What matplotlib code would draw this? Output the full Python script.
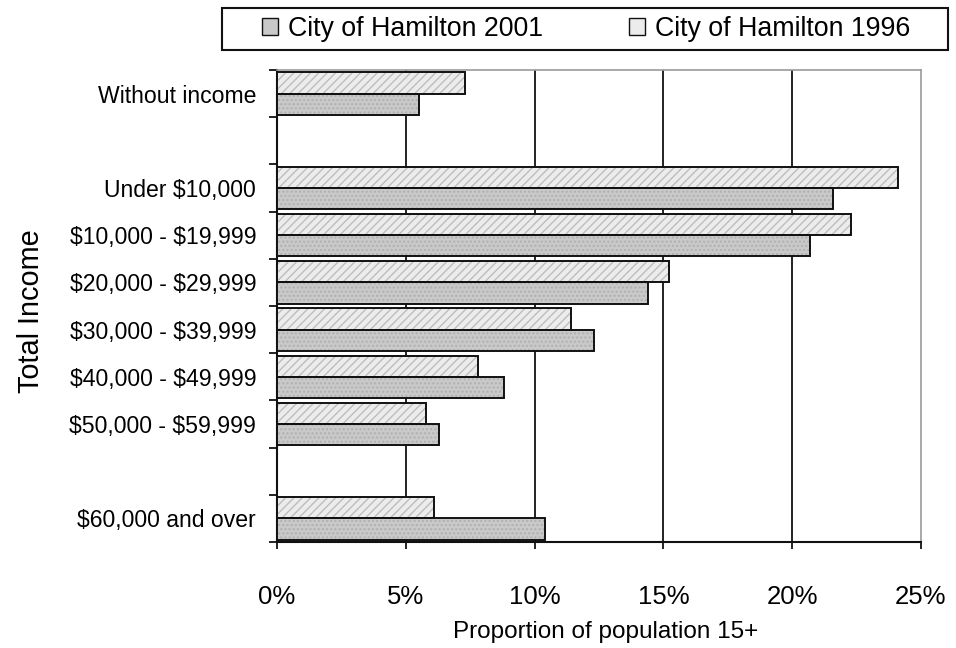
import matplotlib.pyplot as plt
from matplotlib.patches import Patch, Rectangle

plt.rcParams['font.family'] = ['Liberation Sans', 'DejaVu Sans']

# income brackets, top to bottom
categories = [
    "Without income",
    "Under $10,000",
    "$10,000 - $19,999",
    "$20,000 - $29,999",
    "$30,000 - $39,999",
    "$40,000 - $49,999",
    "$50,000 - $59,999",
    "$60,000 and over",
]
# share of population aged 15+ (%)
hamilton_2001 = [5.5, 21.6, 20.7, 14.4, 12.3, 8.8, 6.3, 10.4]
hamilton_1996 = [7.3, 24.1, 22.3, 15.2, 11.4, 7.8, 5.8, 6.1]
x_ticks = [0, 5, 10, 15, 20, 25]

# row slots (empty slots after "Without income" and before "$60,000 and over")
slots = [0, 2, 3, 4, 5, 6, 7, 9]
n_slots = 10
bar_h = 0.45

fig = plt.figure(figsize=(9.56, 6.48), dpi=100)
ax = fig.add_axes([277 / 956, 1 - 542 / 648, 644 / 956, 472 / 648])

y96 = [s - bar_h / 2 for s in slots]
y01 = [s + bar_h / 2 for s in slots]

# fill + hatch first, outline on top so hatch lines stay light
ax.barh(y96, hamilton_1996, height=bar_h, color="#ececec", edgecolor="#bdbdbd",
        hatch="////", linewidth=0, zorder=3)
ax.barh(y96, hamilton_1996, height=bar_h, fill=False, edgecolor="#111111",
        linewidth=1.4, zorder=4)
ax.barh(y01, hamilton_2001, height=bar_h, color="#c9c9c9", edgecolor="#b0b0b0",
        hatch="....", linewidth=0, zorder=3)
ax.barh(y01, hamilton_2001, height=bar_h, fill=False, edgecolor="#111111",
        linewidth=1.4, zorder=4)

ax.set_xlim(0, 25)
ax.set_ylim(n_slots - 0.5, -0.5)

# vertical gridlines behind the bars
for v in x_ticks[1:-1]:
    ax.axvline(v, color="#111111", linewidth=1.3, zorder=1)

ax.set_xticks(x_ticks)
ax.set_xticklabels([f"{v}%" for v in x_ticks], fontsize=18.5)
ax.tick_params(axis="x", direction="out", length=5, width=1.3, pad=26, color="#111111")

# slot boundaries as major ticks, names as minor tick labels
ax.set_yticks([i - 0.5 for i in range(n_slots + 1)])
ax.set_yticklabels([])
ax.tick_params(axis="y", which="major", direction="out", length=6, width=1.3, color="#111111")
ax.set_yticks(slots, minor=True)
ax.set_yticklabels([c.replace("$", r"\$") for c in categories], minor=True, fontsize=16.6)
ax.tick_params(axis="y", which="minor", length=0, pad=15)

for side in ("left", "bottom"):
    ax.spines[side].set_color("#111111")
    ax.spines[side].set_linewidth(1.5)
for side in ("top", "right"):
    ax.spines[side].set_color("#9a9a9a")
    ax.spines[side].set_linewidth(1.2)

ax.set_xlabel("Proportion of population 15+", fontsize=17.5)
ax.xaxis.set_label_coords(0.51, -0.19)
ax.xaxis.label.set_va("center")
ax.set_ylabel("Total Income", fontsize=20.8)
ax.yaxis.set_label_coords(-0.382, 0.49)
ax.yaxis.label.set_va("center")

# legend box drawn separately, entries sit left-aligned inside it
fig.patches.append(Rectangle((222 / 956, 1 - 50 / 648), 726 / 956, 42 / 648,
                             transform=fig.transFigure, facecolor="white",
                             edgecolor="#111111", linewidth=1.5, zorder=0))
handles = [
    Patch(facecolor="#c9c9c9", edgecolor="#111111", linewidth=1.0, label="City of Hamilton 2001"),
    Patch(facecolor="#ececec", edgecolor="#111111", linewidth=1.0, label="City of Hamilton 1996"),
]
fig.legend(handles=handles, loc="center left", ncol=2,
           bbox_to_anchor=(262 / 956, 1 - 29 / 648),
           fontsize=19.3, handlelength=0.6, handleheight=0.6, handletextpad=0.38,
           columnspacing=3.2, borderpad=0, borderaxespad=0, frameon=False)

fig.savefig("out.png", dpi=100)
